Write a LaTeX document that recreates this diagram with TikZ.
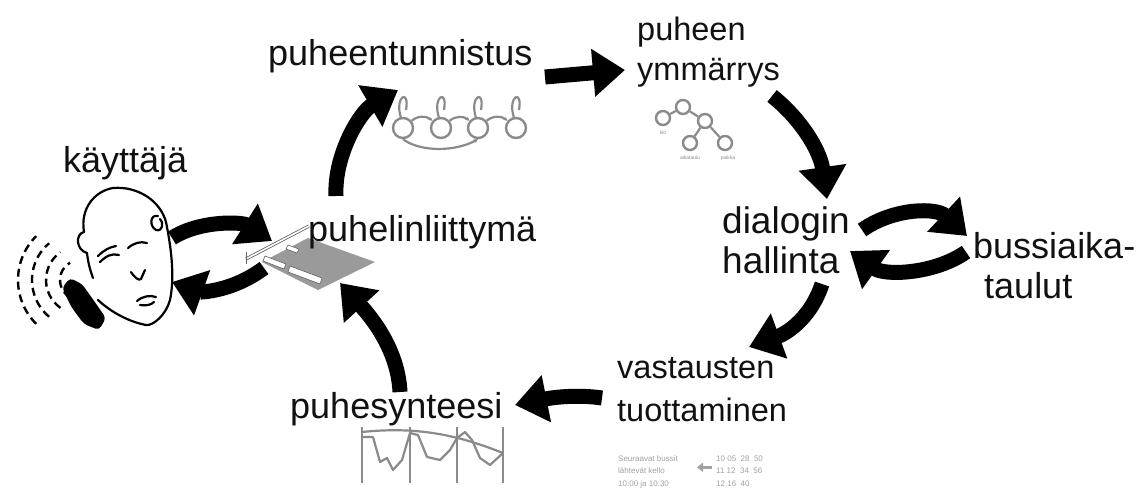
\documentclass[tikz,border=0pt]{standalone}
\usepackage{fontspec}
\setmainfont{Liberation Sans}
\usetikzlibrary{arrows.meta}
\definecolor{ink}{HTML}{111111}
\definecolor{grayink}{HTML}{8A8A8A}
\definecolor{boardgray}{HTML}{9A9A9A}
\begin{document}
\begin{tikzpicture}[x=1pt,y=-1pt,
  lbl/.style={anchor=base west, inner sep=0, font=\fontsize{36}{36}\selectfont, text=ink},
  lblS/.style={lbl, font=\fontsize{32.5}{32.5}\selectfont},
  lblL/.style={lbl, font=\fontsize{37}{37}\selectfont},
  tiny/.style={anchor=base west, inner sep=0, font=\fontsize{8}{8}\selectfont, text=grayink!80},
  mini/.style={anchor=base, inner sep=0, font=\fontsize{5}{5}\selectfont, text=grayink},
  bigarrow/.style={draw=black, line width=15pt, -{Triangle[length=32pt,width=46pt]}},
  gfx/.style={draw=grayink, line width=2.2pt},
  face/.style={draw=black, line width=2.2pt, line cap=round, line join=round},
  state/.style={circle, draw=grayink, line width=2.4pt, minimum size=20pt, inner sep=0},
  tnode/.style={circle, draw=grayink, line width=2.4pt, minimum size=14pt, inner sep=0}]
\useasboundingbox (0,0) rectangle (1137,495);

% ---------- labels ----------
\node[lbl]  (user)   at (63,172)  {käyttäjä};
\node[lbl]  (asr)    at (268,66)  {puheentunnistus};
\node[lblS] (nlu1)   at (637,41)  {puheen};
\node[lblS] (nlu2)   at (637,81)  {ymmärrys};
\node[lblL] (dm1)    at (722,233) {dialogin};
\node[lblL] (dm2)    at (722,273) {hallinta};
\node[lbl]  (db1)    at (973,258) {bussiaika-};
\node[lbl]  (db2)    at (984,298) {taulut};
\node[lblS] (gen1)   at (617,378) {vastausten};
\node[lblS] (gen2)   at (617,421) {tuottaminen};
\node[lbl]  (tts)    at (290,418) {puhesynteesi};

% ---------- telephone interface card ----------
\fill[boardgray] (262,262) -- (308,238) -- (375,262) -- (318,290) -- cycle;
\draw[grayink!70!black, line width=0.6pt, fill=white] (265,256) -- (286,264) -- (284,269) -- (263,261) -- cycle;
\draw[grayink!70!black, line width=0.6pt, fill=white] (290,266) -- (322,278) -- (320,284) -- (288,272) -- cycle;
\draw[grayink!70!black, line width=0.6pt, fill=white] (288,245) -- (299,249) -- (297,253) -- (286,249) -- cycle;
\draw[grayink!70!black, line width=3.2pt] (246,259) -- (309,226);
\draw[white, line width=1.6pt] (246,259) -- (309,226);
\draw[grayink!70!black, line width=1pt] (246,252) -- (246,264);
\node[lbl] (tel) at (308,241) {puhelinliittymä};

% ---------- user's head ----------
\foreach \r/\a in {20/60,34/55,48/50,62/45}
  \draw[black, line width=2.4pt, dash pattern=on 8pt off 5pt]
    ([shift={(180-\a:\r)}]80,280) arc[start angle=180-\a, end angle=180+\a, radius=\r];
\draw[face] (84,232) .. controls (80,208) and (95,191) .. (113,188)
  .. controls (137,186) and (160,200) .. (166,222)
  .. controls (171,247) and (175,276) .. (170,300)
  .. controls (166,315) and (153,326) .. (146,325)
  .. controls (130,322) and (112,313) .. (98,300);
\draw[face] (84,232) .. controls (75,234) and (76,250) .. (87,253);
\draw[face] (87,253) .. controls (88,262) and (90,270) .. (93,278);
\draw[face] (158,216) .. controls (150,214) and (149,226) .. (156,230) .. controls (163,232) and (164,222) .. (160,219);
\draw[face] (100,262) .. controls (106,256) and (112,253) .. (119,255);
\draw[face] (98,256) .. controls (104,250) and (110,247) .. (116,246);
\draw[face] (128,248) .. controls (134,243) and (140,241) .. (147,243);
\draw[face] (131,272) .. controls (135,278) and (139,281) .. (141,279) .. controls (143,276) and (143,273) .. (145,270);
\draw[face] (137,301) .. controls (143,296) and (150,295) .. (156,297);
\draw[face] (140,305) .. controls (146,306) and (151,305) .. (154,302);
\fill[black, rounded corners=4pt] (62,288) -- (70,278) -- (82,284) -- (92,298) -- (106,318) -- (99,330) -- (84,324) -- (72,308) -- cycle;

% ---------- speech recogniser: HMM chain ----------
\foreach \i/\x in {1/403,2/441,3/478,4/516}{
  \node[state] (s\i) at (\x,128) {};
  \draw[gfx] (\x-2,118) .. controls (\x-9,96) and (\x+7,88) .. (\x+3,110);
}
\draw[gfx, -{Stealth[length=4pt,width=4pt]}] (s1) to[bend left=40] (s2);
\draw[gfx, -{Stealth[length=4pt,width=4pt]}] (s2) to[bend left=40] (s3);
\draw[gfx, -{Stealth[length=4pt,width=4pt]}] (s3) to[bend left=40] (s4);
\draw[gfx, -{Stealth[length=4pt,width=4pt]}] (s1.south) .. controls (420,152) and (455,152) .. (s3.south);

% ---------- language understanding: parse tree ----------
\node[tnode] (r)  at (683,107) {};
\node[tnode] (a)  at (663,118) {};
\node[tnode] (b)  at (705,121) {};
\node[tnode] (c)  at (690,143) {};
\node[tnode] (d)  at (725,143) {};
\draw[gfx] (r) -- (a) (r) -- (b) (b) -- (c) (b) -- (d);
\node[mini] (la) at (663,134) {klo};
\node[mini] (lc) at (690,159) {aikataulu};
\node[mini] (ld) at (728,159) {paikka};

% ---------- speech synthesis: waveform ----------
\foreach \x in {362,410,457,503}
  \draw[gfx] (\x,427) -- (\x,483);
\draw[gfx] (362,432) .. controls (420,426) and (460,436) .. (503,453);
\draw[gfx, line join=round] (362,437) -- (373,437) -- (380,462) -- (387,458) -- (393,470) -- (402,460)
  -- (410,433) -- (418,435) -- (427,457) -- (440,460) -- (450,450) -- (457,438) -- (465,432)
  -- (472,440) -- (480,458) -- (490,465) -- (503,453);

% ---------- response generation: timetable ----------
\node[tiny] (r1) at (618,461) {Seuraavat bussit};
\node[tiny] (r2) at (618,473) {lähtevät kello};
\node[tiny] (r3) at (618,486) {10:00 ja 10:30};
\node[tiny] (q1) at (716,461) {10 05 \ 28 \ 50};
\node[tiny] (q2) at (716,473) {11 12 \ 34 \ 56};
\node[tiny] (q3) at (716,486) {12 16 \ 40};
\draw[grayink!80, line width=3pt, -{Triangle[length=6pt,width=9pt]}] (q2.west) ++(-4,-3) coordinate (qa) -- ++(-15,0) coordinate (qb);

% ---------- flow arrows ----------
\coordinate (a1s) at (336,196); \coordinate (a1e) at (398,90);
\coordinate (a2s) at (545,77);  \coordinate (a2e) at (625,70);
\coordinate (a3s) at (772,96);  \coordinate (a3e) at (827,199);
\coordinate (a4s) at (862,230); \coordinate (a4e) at (967,236);
\coordinate (a5s) at (966,252); \coordinate (a5e) at (850,251);
\coordinate (a6s) at (822,284); \coordinate (a6e) at (749,347);
\coordinate (a7s) at (602,398); \coordinate (a7e) at (515,405);
\coordinate (a8s) at (400,392); \coordinate (a8e) at (340,283);
\coordinate (a9s) at (172,238); \coordinate (a9e) at (272,241);
\coordinate (a10s) at (264,268); \coordinate (a10e) at (172,282);

\draw[bigarrow] (a1s) .. controls (334,155) and (360,112) .. (a1e);
\draw[bigarrow] (a2s) -- (a2e);
\draw[bigarrow] (a3s) .. controls (800,118) and (820,150) .. (a3e);
\draw[bigarrow] (a4s) .. controls (895,207) and (937,208) .. (a4e);
\draw[bigarrow] (a5s) .. controls (935,274) and (885,276) .. (a5e);
\draw[bigarrow] (a6s) .. controls (812,315) and (790,332) .. (a6e);
\draw[bigarrow] (a7s) .. controls (575,394) and (550,398) .. (a7e);
\draw[bigarrow] (a8s) .. controls (398,350) and (372,318) .. (a8e);
\draw[bigarrow] (a9s) .. controls (200,220) and (242,222) .. (a9e);
\draw[bigarrow] (a10s) .. controls (232,292) and (200,292) .. (a10e);
\end{tikzpicture}
\end{document}
